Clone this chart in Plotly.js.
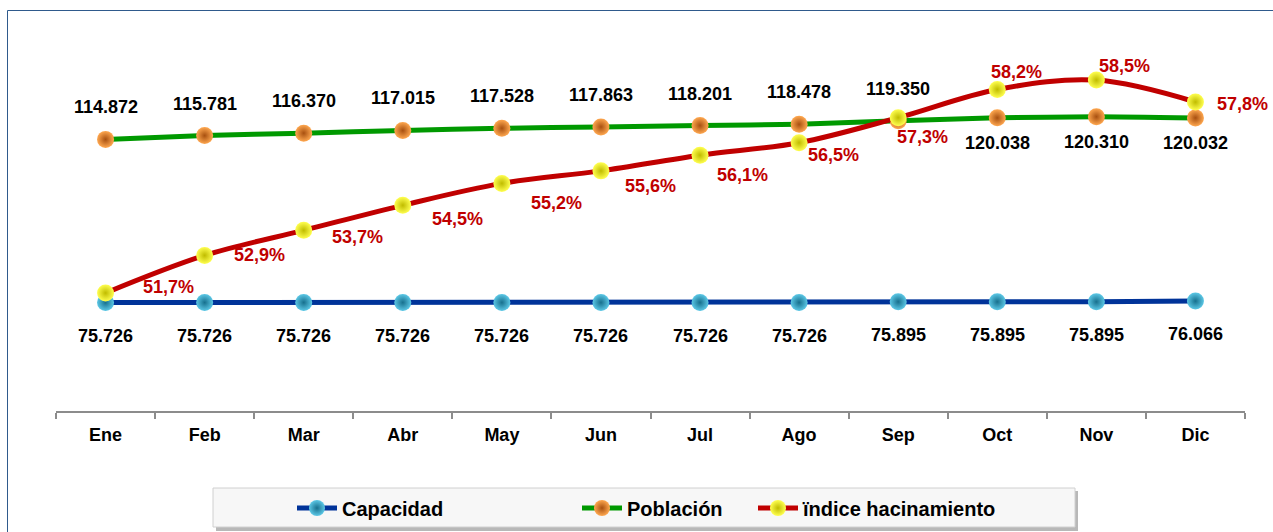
<!DOCTYPE html>
<html>
<head>
<meta charset="utf-8">
<script src="https://cdn.plot.ly/plotly-3.0.1.min.js"></script>
<style>
html,body{margin:0;padding:0;background:#fff;}
#chart{width:1273px;height:532px;}
</style>
</head>
<body>
<div id="chart"></div>
<script>
// ---- data ----
const months = ['Ene','Feb','Mar','Abr','May','Jun','Jul','Ago','Sep','Oct','Nov','Dic'];
const capacidad = [75726,75726,75726,75726,75726,75726,75726,75726,75895,75895,75895,76066];
const poblacion = [114872,115781,116370,117015,117528,117863,118201,118478,119350,120038,120310,120032];
const indice = [51.7,52.9,53.7,54.5,55.2,55.6,56.1,56.5,57.3,58.2,58.5,57.8];
const seriesNames = ['Capacidad','Población','ïndice hacinamiento'];

// ---- label placement (styling only) ----
const pobLabelSide = ['above','above','above','above','above','above','above','above','above','below','below','below'];
const idxShiftX = [35,27,26,27,27,22,15,7,-3,-8,1,20];
const idxShiftY = [-6,0,7,14,20,15,20,12,19,-17,-14,2];

const FONT = '"Liberation Sans", Arial, sans-serif';
const fmtInt = v => String(v).replace(/\B(?=(\d{3})+(?!\d))/g, '.');
const fmtPct = v => v.toFixed(1).replace('.', ',') + '%';

const ML = 56, MR = 28, MT = 40, MB = 121;
const PW = 1273 - ML - MR, PH = 532 - MT - MB;
const px2x = px => (px - ML) / PW;
const py2y = py => (532 - MB - py) / PH;

const traces = [
  {
    x: months, y: capacidad, name: seriesNames[0], type: 'scatter', mode: 'lines+markers',
    line: {color: '#003399', width: 5},
    marker: {size: 17, color: '#5cc8e6', gradient: {type: 'radial', color: '#17708e'}},
    legend: 'legend', hoverinfo: 'x+y'
  },
  {
    x: months, y: poblacion, name: seriesNames[1], type: 'scatter', mode: 'lines+markers',
    line: {color: '#009900', width: 5, shape: 'spline', smoothing: 0.6},
    marker: {size: 17, color: '#ffa850', gradient: {type: 'radial', color: '#a85010'}},
    legend: 'legend2', hoverinfo: 'x+y'
  },
  {
    x: months, y: indice, name: seriesNames[2], type: 'scatter', mode: 'lines+markers', yaxis: 'y2',
    line: {color: '#c00000', width: 5, shape: 'spline', smoothing: 1},
    marker: {size: 17, color: '#ffff50', gradient: {type: 'radial', color: '#c0bc00'}},
    legend: 'legend3', hoverinfo: 'x+y'
  }
];

const annotations = [];
months.forEach((m, i) => {
  annotations.push({x: m, y: capacidad[i], xref: 'x', yref: 'y', text: fmtInt(capacidad[i]),
    showarrow: false, yshift: -33, font: {family: FONT, size: 18, color: '#000', weight: 'bold'}});
  annotations.push({x: m, y: poblacion[i], xref: 'x', yref: 'y', text: fmtInt(poblacion[i]),
    showarrow: false, yshift: pobLabelSide[i] === 'above' ? 32 : -25,
    font: {family: FONT, size: 18, color: '#000', weight: 'bold'}});
  annotations.push({x: m, y: indice[i], xref: 'x', yref: 'y2', text: fmtPct(indice[i]),
    showarrow: false, xanchor: 'left', xshift: idxShiftX[i], yshift: -idxShiftY[i],
    font: {family: FONT, size: 18, color: '#c00000', weight: 'bold'}});
});

const legendFont = {family: FONT, size: 20, color: '#000', weight: 'bold'};
const legY = py2y(508);
const mkLegend = (pxText) => ({
  x: px2x(pxText - 50), y: legY, xanchor: 'left', yanchor: 'middle', orientation: 'h',
  bgcolor: 'rgba(0,0,0,0)', borderwidth: 0, font: legendFont, itemwidth: 40
});

const layout = {
  width: 1273, height: 532,
  margin: {l: ML, r: MR, t: MT, b: MB, pad: 0, autoexpand: false},
  paper_bgcolor: '#ffffff', plot_bgcolor: 'rgba(0,0,0,0)',
  separators: ',.',
  font: {family: FONT, size: 18, color: '#000'},
  showlegend: true,
  xaxis: {
    type: 'category', showgrid: false, zeroline: false,
    showline: true, linecolor: '#8c8c8c', linewidth: 2,
    ticks: 'outside', tickson: 'boundaries', ticklen: 6, tickwidth: 2, tickcolor: '#8c8c8c',
    ticklabelstandoff: 6,
    tickfont: {family: FONT, size: 18, color: '#000', weight: 'bold'},
    range: [-0.5, 11.5]
  },
  yaxis: {range: [49688, 138721], visible: false, showgrid: false, zeroline: false, fixedrange: true},
  yaxis2: {range: [47.93, 59.78], overlaying: 'y', side: 'right', visible: false, showgrid: false, zeroline: false},
  legend: mkLegend(342),
  legend2: mkLegend(627),
  legend3: mkLegend(803),
  annotations: annotations,
  shapes: [
    {type: 'rect', xref: 'paper', yref: 'paper', x0: px2x(7.5), x1: px2x(1290), y0: py2y(600), y1: py2y(10.5),
     line: {color: '#2f5a8c', width: 1}, fillcolor: 'rgba(0,0,0,0)', layer: 'below'},
    {type: 'rect', xref: 'paper', yref: 'paper', x0: px2x(216), x1: px2x(1078), y0: py2y(531), y1: py2y(491),
     line: {width: 0}, fillcolor: '#b8b8b8', layer: 'below'},
    {type: 'rect', xref: 'paper', yref: 'paper', x0: px2x(213), x1: px2x(1075), y0: py2y(527), y1: py2y(488),
     line: {color: '#d0d0d0', width: 1}, fillcolor: '#f7f7f7', layer: 'below'}
  ]
};

Plotly.newPlot('chart', traces, layout, {displayModeBar: false, staticPlot: true});
</script>
</body>
</html>
